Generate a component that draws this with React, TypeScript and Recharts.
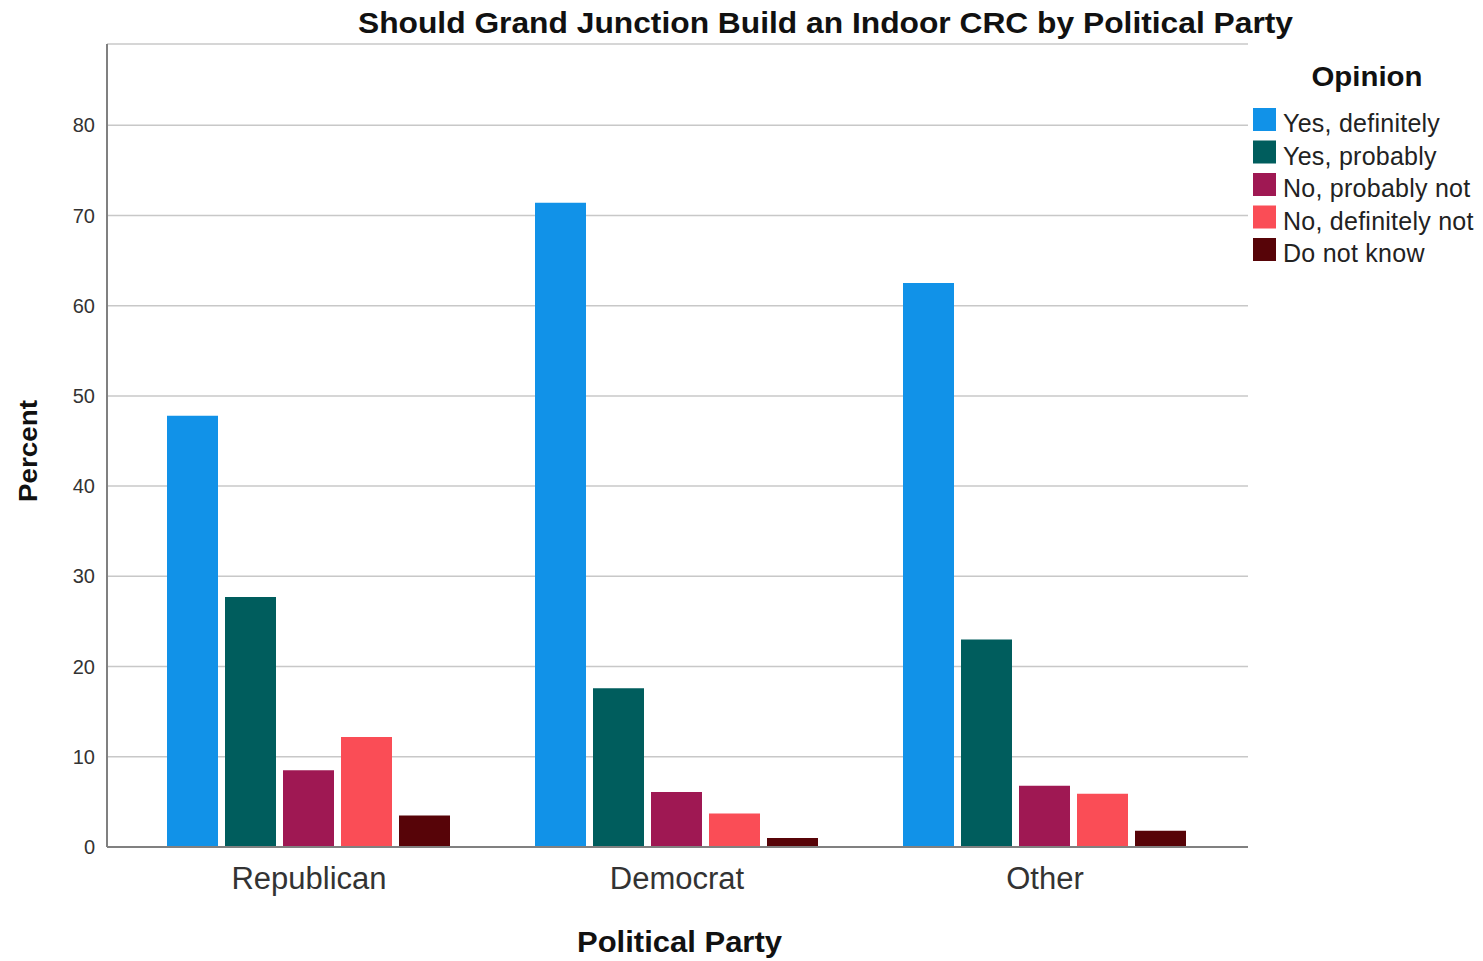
import React from "react";
import { Bar, BarChart, CartesianGrid, XAxis, YAxis } from "recharts";

const parties = ["Republican", "Democrat", "Other"];
const yesDefinitely = [47.8, 71.4, 62.5];
const yesProbably = [27.7, 17.6, 23.0];
const noProbablyNot = [8.5, 6.1, 6.8];
const noDefinitelyNot = [12.2, 3.7, 5.9];
const doNotKnow = [3.5, 1.0, 1.8];

const opinions = ["Yes, definitely", "Yes, probably", "No, probably not", "No, definitely not", "Do not know"];
const colors = ["#1192e8", "#005d5d", "#9f1853", "#fa4d56", "#570408"];
const yTicks = [0, 10, 20, 30, 40, 50, 60, 70, 80];

const seriesValues = [yesDefinitely, yesProbably, noProbablyNot, noDefinitelyNot, doNotKnow];

const data = parties.map((party, i) => {
    const row: Record<string, string | number> = { party };
    seriesValues.forEach((values, j) => {
        row[`s${j}`] = values[i];
    });
    return row;
});

const FONT = "'Liberation Sans', Arial, sans-serif";

function Overlay() {
    return (
        <svg
            width={1483}
            height={961}
            style={{ position: "absolute", left: 0, top: 0, pointerEvents: "none" }}
            fontFamily={FONT}
        >
            <text x={825.5} y={33} textAnchor="middle" fontSize={30} fontWeight="bold" fill="#111"
                textLength={935} lengthAdjust="spacingAndGlyphs">
                Should Grand Junction Build an Indoor CRC by Political Party
            </text>
            <text x={679.5} y={952} textAnchor="middle" fontSize={30} fontWeight="bold" fill="#111"
                textLength={205} lengthAdjust="spacingAndGlyphs">
                Political Party
            </text>
            <text transform="translate(37 451) rotate(-90)" textAnchor="middle" fontSize={25} fontWeight="bold" fill="#111"
                textLength={102} lengthAdjust="spacingAndGlyphs">
                Percent
            </text>

            {/* legend */}
            <text x={1367} y={86} textAnchor="middle" fontSize={27} fontWeight="bold" fill="#111"
                textLength={111} lengthAdjust="spacingAndGlyphs">
                Opinion
            </text>
            {opinions.map((name, j) => {
                const top = 108 + j * 32.5;
                return (
                    <g key={name}>
                        <rect x={1253} y={top} width={23} height={23} fill={colors[j]} />
                        <text x={1283} y={top + 24} fontSize={25} fill="#222" letterSpacing={0.25}>
                            {name}
                        </text>
                    </g>
                );
            })}
        </svg>
    );
}

export default function App() {
    return (
        <div style={{ position: "absolute", left: 0, top: 0, width: 1483, height: 961, background: "#fff" }}>
            <BarChart
                width={1483}
                height={961}
                data={data}
                margin={{ top: 44, right: 235, bottom: 0, left: 0 }}
                barCategoryGap={42}
                barGap={7}
            >
                <CartesianGrid vertical={false} stroke="#c8c8c8" strokeWidth={1.5} />
                <XAxis
                    dataKey="party"
                    height={114}
                    padding={{ left: 18, right: 19 }}
                    tickLine={false}
                    tickSize={0}
                    tickMargin={20}
                    axisLine={{ stroke: "#808080", strokeWidth: 2 }}
                    tick={{ fontSize: 31, fill: "#333", fontFamily: FONT }}
                />
                <YAxis
                    width={107}
                    domain={[0, 89]}
                    ticks={yTicks}
                    tickLine={false}
                    tickSize={0}
                    tickMargin={12}
                    axisLine={{ stroke: "#808080", strokeWidth: 2 }}
                    tick={{ fontSize: 20, fill: "#333", fontFamily: FONT }}
                />
                {opinions.map((name, j) => (
                    <Bar
                        key={name}
                        dataKey={`s${j}`}
                        name={name}
                        fill={colors[j]}
                        isAnimationActive={false}
                    />
                ))}
            </BarChart>
            <Overlay />
        </div>
    );
}
